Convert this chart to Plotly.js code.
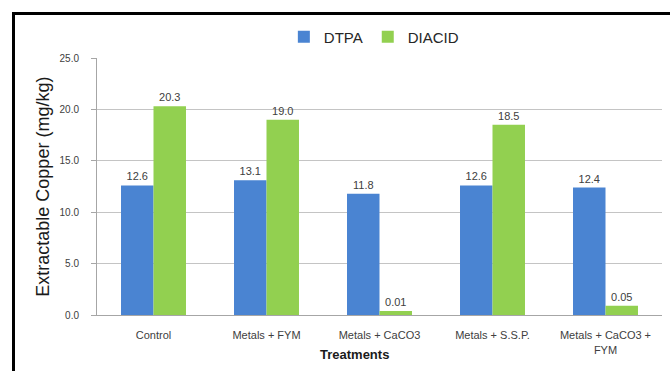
<!DOCTYPE html>
<html>
<head>
<meta charset="utf-8">
<script src="https://cdn.plot.ly/plotly-3.0.1.min.js"></script>
<style>
  html, body { margin: 0; padding: 0; background: #fff; }
  #wrap { position: relative; width: 670px; height: 371px; }
  #chart { width: 670px; height: 371px; }
  #frame { position: absolute; left: 12px; top: 12px; width: 700px; height: 400px;
           border-left: 3px solid #000; border-top: 3px solid #000; pointer-events: none; }
</style>
</head>
<body>
<div id="wrap">
  <div id="chart"></div>
  <div id="frame"></div>
</div>
<script>
// Data
const categories = ["Control", "Metals + FYM", "Metals + CaCO3", "Metals + S.S.P.", "Metals + CaCO3 +<br>FYM"];
const dtpaValues = [12.6, 13.1, 11.8, 12.6, 12.4];
const dtpaLabels = ["12.6", "13.1", "11.8", "12.6", "12.4"];
// bar heights as drawn in the picture; printed labels as written in the picture
const diacidValues = [20.3, 19.0, 0.4, 18.5, 0.9];
const diacidLabels = ["20.3", "19.0", "0.01", "18.5", "0.05"];
const yTicks = [0, 5, 10, 15, 20, 25];
const yTickText = ["0.0", "5.0", "10.0", "15.0", "20.0", "25.0"];

const labelFont = { family: "Liberation Sans, Arial, sans-serif", size: 11, color: "#404040" };

const traces = [
  {
    type: "bar", name: "DTPA", x: categories, y: dtpaValues,
    text: dtpaLabels, texttemplate: "%{text}", textposition: "outside",
    textfont: labelFont, cliponaxis: false,
    marker: { color: "#4A84D2" }, hoverinfo: "none"
  },
  {
    type: "bar", name: "DIACID", x: categories, y: diacidValues,
    text: diacidLabels, texttemplate: "%{text}", textposition: "outside",
    textfont: labelFont, cliponaxis: false,
    marker: { color: "#92D050" }, hoverinfo: "none"
  }
];

const layout = {
  width: 670, height: 371,
  margin: { l: 97, r: 8, t: 58, b: 56, pad: 0 },
  paper_bgcolor: "#ffffff", plot_bgcolor: "#ffffff",
  barmode: "group", bargap: 0.425, bargroupgap: 0,
  showlegend: true,
  legend: {
    orientation: "h", x: 0.49, xanchor: "center", y: 1.082, yanchor: "middle",
    font: { family: "Liberation Sans, Arial, sans-serif", size: 15, color: "#262626" },
    itemwidth: 30, traceorder: "normal"
  },
  xaxis: {
    type: "category", showgrid: false, zeroline: false,
    showline: true, linecolor: "#a6a6a6", linewidth: 1,
    ticks: "", ticklabelstandoff: 10,
    tickfont: { family: "Liberation Sans, Arial, sans-serif", size: 11, color: "#404040" },
    automargin: false
  },
  yaxis: {
    range: [0, 25], tickvals: yTicks, ticktext: yTickText,
    showgrid: true, gridcolor: "#c4c4c4", gridwidth: 1, zeroline: false,
    showline: true, linecolor: "#a6a6a6", linewidth: 1,
    ticks: "outside", ticklen: 5, tickcolor: "#a6a6a6", ticklabelstandoff: 10,
    tickfont: { family: "Liberation Sans, Arial, sans-serif", size: 10, color: "#404040" },
    automargin: false
  },
  annotations: [
    {
      text: "Extractable Copper (mg/kg)", textangle: -90, showarrow: false,
      xref: "paper", yref: "paper", x: -0.097, y: 0.5, xanchor: "center", yanchor: "middle",
      font: { family: "Liberation Sans, Arial, sans-serif", size: 18, color: "#1a1a1a" }
    },
    {
      text: "<b>Treatments</b>", showarrow: false,
      xref: "paper", yref: "paper", x: 0.455, y: -0.155, xanchor: "center", yanchor: "middle",
      font: { family: "Liberation Sans, Arial, sans-serif", size: 13, color: "#1a1a1a" }
    }
  ]
};

Plotly.newPlot("chart", traces, layout, { displayModeBar: false, staticPlot: true });
</script>
</body>
</html>
